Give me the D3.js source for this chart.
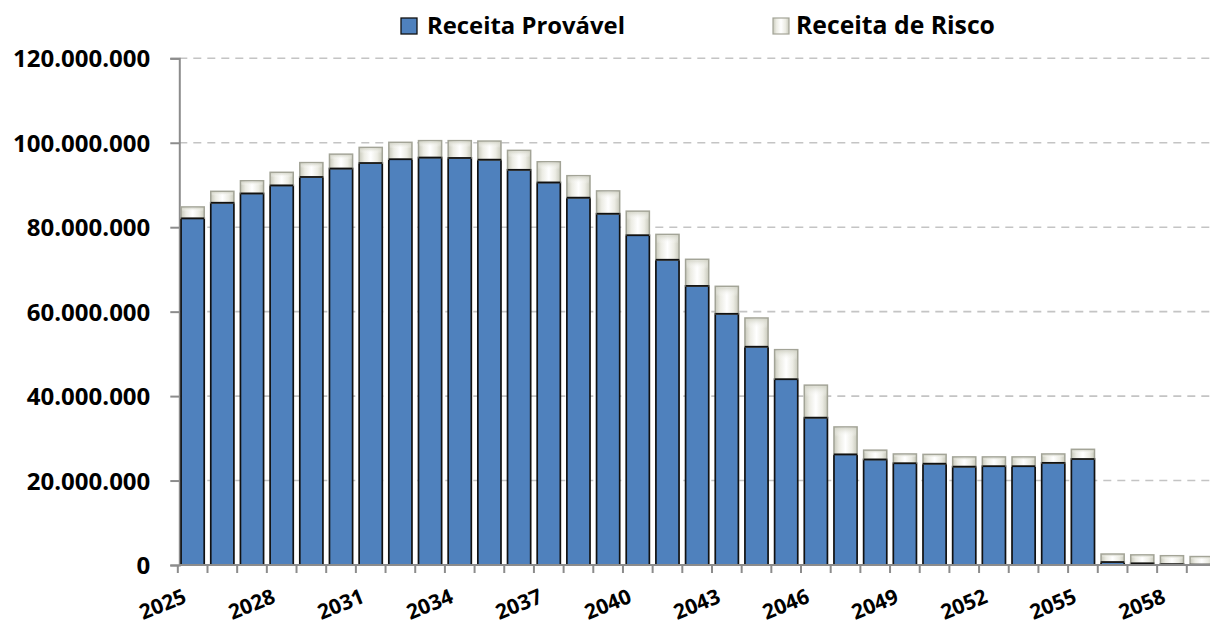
<!DOCTYPE html>
<html><head><meta charset="utf-8">
<script src="https://cdn.jsdelivr.net/npm/d3@7"></script>
<style>
html,body{margin:0;padding:0;background:#fff;}
svg{display:block;font-family:"Open Sans",Lato,sans-serif;font-weight:bold;}
</style></head>
<body><svg id="c" width="1210" height="626"></svg>
<script>
const years = [2025,2026,2027,2028,2029,2030,2031,2032,2033,2034,2035,2036,2037,2038,2039,2040,2041,2042,2043,2044,2045,2046,2047,2048,2049,2050,2051,2052,2053,2054,2055,2056,2057,2058,2059];
const receitaProvavel = [82100000,85800000,88000000,89900000,91900000,93900000,95200000,96100000,96500000,96400000,96000000,93600000,90600000,87000000,83200000,78100000,72300000,66100000,59500000,51700000,44000000,34900000,26200000,25000000,24100000,24000000,23300000,23400000,23400000,24200000,25100000,700000,400000,200000,100000];
const receitaRisco = [2700000,2700000,3000000,3100000,3400000,3400000,3700000,4000000,4000000,4100000,4400000,4600000,4900000,5200000,5400000,5700000,6000000,6300000,6500000,6800000,7000000,7700000,6500000,2200000,2200000,2200000,2300000,2200000,2200000,2100000,2300000,1900000,2000000,2000000,1900000];
const yTicks = [0,20000000,40000000,60000000,80000000,100000000,120000000];
const xLabelYears = [2025,2028,2031,2034,2037,2040,2043,2046,2049,2052,2055,2058];
const seriesNames = ["Receita Provável","Receita de Risco"];

const svg = d3.select("#c");
const x0 = 179.3, x1 = 1215, yBase = 565, yTop = 58.3;
const x = d3.scaleBand().domain(years).range([x0, x1]).paddingInner(0.22).paddingOuter(0.06);
const step = x.step();
const y = d3.scaleLinear().domain([0, 120000000]).range([yBase, yTop]);

const defs = svg.append("defs");
const g1 = defs.append("linearGradient").attr("id","risk").attr("x1","0").attr("x2","1").attr("y1","0").attr("y2","0");
[[0,"#c9cabc"],[0.22,"#ecece4"],[0.5,"#ffffff"],[0.78,"#ecece4"],[1,"#c9cabc"]].forEach(([o,c])=>g1.append("stop").attr("offset",o).attr("stop-color",c));
const g2 = defs.append("linearGradient").attr("id","riskV").attr("x1","0").attr("x2","0").attr("y1","0").attr("y2","1");
[[0,"#d4d5c8",0.9],[0.35,"#ffffff",0],[1,"#ffffff",0]].forEach(([o,c,a])=>g2.append("stop").attr("offset",o).attr("stop-color",c).attr("stop-opacity",a));

// gridlines
svg.append("g").selectAll("line").data(yTicks.filter(d=>d>0)).join("line")
  .attr("x1", x0).attr("x2", 1210).attr("y1", d=>y(d)).attr("y2", d=>y(d))
  .attr("stroke","#c4c4c4").attr("stroke-width",1.6).attr("stroke-dasharray","8,6");

// y axis
const yAxis = d3.axisLeft(y).tickValues(yTicks).tickSize(9).tickPadding(20)
  .tickFormat(d => d3.format(",")(d).replace(/,/g,"."));
const ya = svg.append("g").attr("transform",`translate(${x0},0)`).call(yAxis);
ya.select(".domain").attr("stroke","#8c8c8c").attr("stroke-width",2);
ya.selectAll(".tick line").attr("stroke","#8c8c8c").attr("stroke-width",2);
ya.selectAll(".tick text").attr("fill","#000").style("font-size","24px").style("font-weight","bold")
  .style("font-family","'Open Sans', sans-serif").attr("dy","0.36em");

// bars
const bars = svg.append("g");
bars.selectAll("rect.p").data(years).join("rect").attr("class","p")
  .attr("x", d=>x(d)).attr("width", x.bandwidth())
  .attr("y", (d,i)=>y(receitaProvavel[i])).attr("height",(d,i)=>yBase - y(receitaProvavel[i]))
  .attr("fill","#4f81bd").attr("stroke","#111").attr("stroke-width",1.7);
bars.selectAll("rect.r").data(years).join("rect").attr("class","r")
  .attr("x", d=>x(d)).attr("width", x.bandwidth())
  .attr("y", (d,i)=>y(receitaProvavel[i]+receitaRisco[i])).attr("height",(d,i)=>y(receitaProvavel[i]) - y(receitaProvavel[i]+receitaRisco[i]))
  .attr("fill","url(#risk)").attr("stroke","#a3a497").attr("stroke-width",1.5);
bars.selectAll("rect.rv").data(years).join("rect").attr("class","rv")
  .attr("x", d=>x(d)+1).attr("width", x.bandwidth()-2)
  .attr("y", (d,i)=>y(receitaProvavel[i]+receitaRisco[i])+1).attr("height",(d,i)=>Math.max(0,y(receitaProvavel[i]) - y(receitaProvavel[i]+receitaRisco[i])-2))
  .attr("fill","url(#riskV)");
bars.selectAll("line.pt").data(years).join("line").attr("class","pt")
  .attr("x1", d=>x(d)).attr("x2", d=>x(d)+x.bandwidth())
  .attr("y1",(d,i)=>y(receitaProvavel[i])).attr("y2",(d,i)=>y(receitaProvavel[i]))
  .attr("stroke","#111").attr("stroke-width",1.7);

// x axis
const bounds = years.map(d => x(d) - step*x.paddingInner()/2).concat([x(years[years.length-1]) + x.bandwidth() + step*x.paddingInner()/2]);
svg.append("line").attr("x1",x0).attr("x2",1210).attr("y1",yBase).attr("y2",yBase).attr("stroke","#8c8c8c").attr("stroke-width",2);
svg.append("g").selectAll("line").data(bounds.filter(b=>b<1210)).join("line")
  .attr("x1",d=>d).attr("x2",d=>d).attr("y1",yBase).attr("y2",yBase+8)
  .attr("stroke","#8c8c8c").attr("stroke-width",2);
svg.append("g").selectAll("text").data(xLabelYears).join("text")
  .attr("transform", d=>`translate(${x(d)+x.bandwidth()/2-5},${yBase+37}) rotate(-22)`)
  .attr("text-anchor","end")
  .style("font-size","21px").text(d=>d);

// legend
function fit(sel, w){ const n = sel.node(); const fs = parseFloat(sel.style("font-size")); const L = n.getComputedTextLength(); sel.style("font-size", (fs*w/L)+"px"); }
const leg = svg.append("g");
leg.append("rect").attr("x",401).attr("y",18).attr("width",16).attr("height",16).attr("fill","#4f81bd").attr("stroke","#111").attr("stroke-width",1.3);
const t1 = leg.append("text").attr("x",427).attr("y",34).style("font-size","22px").text(seriesNames[0]);
fit(t1, 198);
leg.append("rect").attr("x",773).attr("y",18).attr("width",16).attr("height",16).attr("fill","url(#risk)").attr("stroke","#a3a497").attr("stroke-width",1.2);
const t2 = leg.append("text").attr("x",796).attr("y",34).style("font-size","22px").text(seriesNames[1]);
fit(t2, 199);
</script></body></html>
